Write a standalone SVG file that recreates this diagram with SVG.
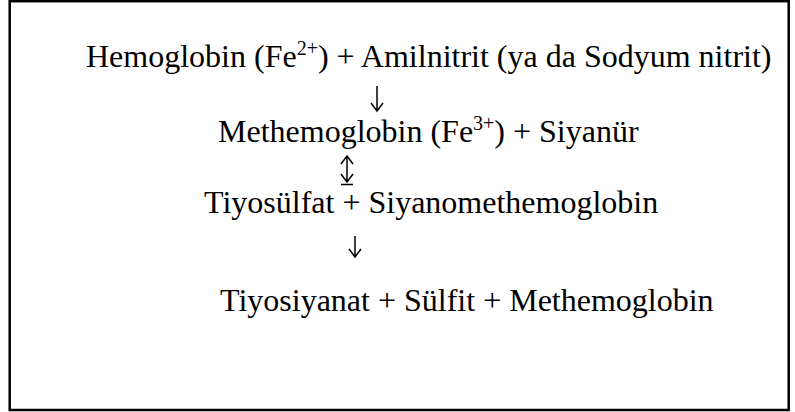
<svg xmlns="http://www.w3.org/2000/svg" width="795" height="412" viewBox="0 0 795 412">
<style>
.t{font-family:"Liberation Serif","Times New Roman",serif;font-size:32px;fill:#000}
.s{font-size:20px}
.c{fill:none;stroke:#000;stroke-width:1.5}
</style>
<rect x="0" y="0" width="795" height="412" fill="#fff"/>
<rect x="9.7" y="1.2" width="779" height="408.8" fill="none" stroke="#000" stroke-width="2.5"/>
<g id="n1"><text class="t" x="86" y="67">Hemoglobin (Fe<tspan class="s" dy="-12">2+</tspan><tspan dy="12">) + Amilnitrit (ya da Sodyum nitrit)</tspan></text></g>
<g id="n2"><text class="t" x="218" y="142">Methemoglobin (Fe<tspan class="s" dy="-12">3+</tspan><tspan dy="12">) + Siyanür</tspan></text></g>
<g id="n3"><text class="t" x="204" y="213">Tiyosülfat + Siyanomethemoglobin</text></g>
<g id="n4"><text class="t" x="220" y="311">Tiyosiyanat + Sülfit + Methemoglobin</text></g>
<g id="connectors">
<path class="c" d="M377 86V111M371 103L377 111L383 103"/>
<path class="c" d="M347 156V182M341 164L347 156L353 164M341 174L347 182L353 174M341 184.5H353"/>
<path class="c" d="M355 236V257M349 249L355 257L361 249"/>
</g>
</svg>
